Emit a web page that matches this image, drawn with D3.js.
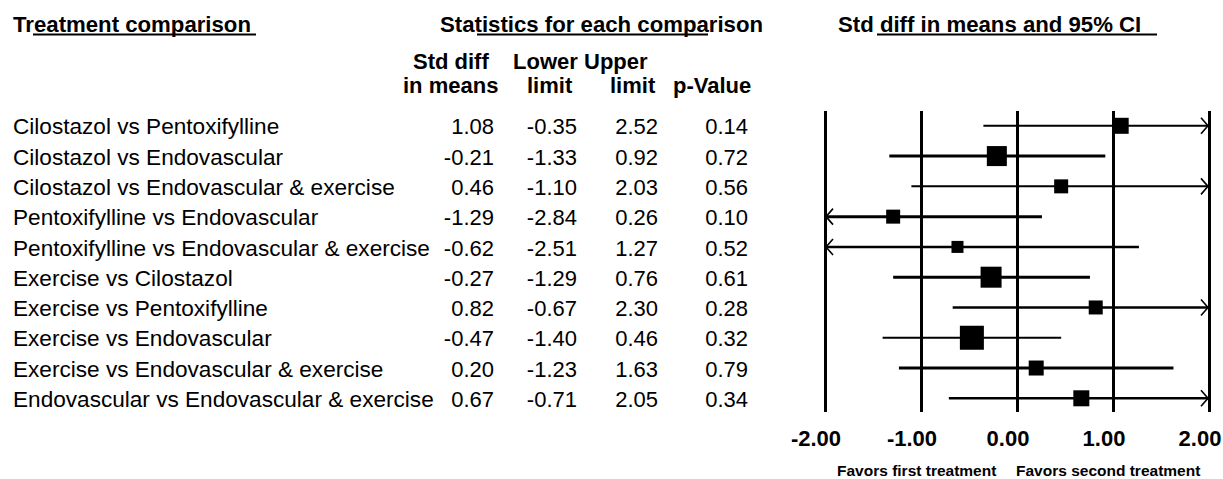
<!DOCTYPE html>
<html><head><meta charset="utf-8">
<script src="https://cdn.jsdelivr.net/npm/d3@7"></script>
<style>
body{margin:0;background:#fff}
text{font-family:"Liberation Sans",Arial,Helvetica,sans-serif;fill:#000}
</style>
</head><body>
<svg id="chart" width="1223" height="479"></svg>
<script>
// ---------- data ----------
const comparisons = [
  "Cilostazol vs Pentoxifylline",
  "Cilostazol vs Endovascular",
  "Cilostazol vs Endovascular & exercise",
  "Pentoxifylline vs Endovascular",
  "Pentoxifylline vs Endovascular & exercise",
  "Exercise vs Cilostazol",
  "Exercise vs Pentoxifylline",
  "Exercise vs Endovascular",
  "Exercise vs Endovascular & exercise",
  "Endovascular vs Endovascular & exercise"
];
const stdDiff    = [1.08, -0.21, 0.46, -1.29, -0.62, -0.27, 0.82, -0.47, 0.20, 0.67];
const lowerLimit = [-0.35, -1.33, -1.10, -2.84, -2.51, -1.29, -0.67, -1.40, -1.23, -0.71];
const upperLimit = [2.52, 0.92, 2.03, 0.26, 1.27, 0.76, 2.30, 0.46, 1.63, 2.05];
const pValue     = [0.14, 0.72, 0.56, 0.10, 0.52, 0.61, 0.28, 0.32, 0.79, 0.34];
const relWeight  = [8.9, 13.9, 6.8, 6.8, 5.0, 15.3, 6.8, 20.0, 7.8, 8.9];
const axisTicks  = [-2, -1, 0, 1, 2];
const favorsLabels = ["Favors first treatment", "Favors second treatment"];
const columnHeaders = [["Std diff", "in means"], ["Lower", "limit"], ["Upper", "limit"], ["", "p-Value"]];
const sectionTitles = ["Treatment comparison", "Statistics for each comparison", "Std diff in means and 95% CI"];

// ---------- layout / style ----------
const ciStroke = [2, 3, 2, 3, 2.5, 3, 2.5, 2, 3, 2.5];
const svg = d3.select("#chart");
const fmt = v => v.toFixed(2);

const x = d3.scaleLinear().domain([-2, 2]).range([825, 1209]);
const y = d3.scalePoint().domain(comparisons).range([125.8, 398.3]);
const side = d3.scaleSqrt().domain([0, 20]).range([0, 24]);

const rows = comparisons.map((c, i) => ({
  name: c, est: stdDiff[i], lo: lowerLimit[i], hi: upperLimit[i], p: pValue[i], w: relWeight[i], sw: ciStroke[i]
}));

// section titles with underline
const titles = [
  {t: sectionTitles[0], x: 13, ux: [33, 256]},
  {t: sectionTitles[1], x: 440, ux: [477, 708]},
  {t: sectionTitles[2], x: 838, ux: [877, 1157]}
];
titles.forEach(d => {
  svg.append("text").attr("x", d.x).attr("y", 32).attr("font-size", 22.2).attr("font-weight", "bold").text(d.t);
  svg.append("line").attr("x1", d.ux[0]).attr("x2", d.ux[1]).attr("y1", 34.5).attr("y2", 34.5)
    .attr("stroke", "#000").attr("stroke-width", 2);
});

// column headers
const headerX = [[413, 403], [513, 527], [584, 610], [0, 673]];
columnHeaders.forEach((h, i) => {
  h.forEach((t, j) => {
    if (!t) return;
    svg.append("text").attr("x", headerX[i][j]).attr("y", j === 0 ? 69 : 93)
      .attr("font-size", 22).attr("font-weight", "bold").text(t);
  });
});

// row labels and statistics
const colRight = [494, 577, 658, 748];
const g = svg.append("g");
g.selectAll("text.lab").data(rows).join("text").attr("class", "lab")
  .attr("x", 13).attr("y", d => y(d.name) + 8.6).attr("font-size", 22.6).text(d => d.name);
[["est"], ["lo"], ["hi"], ["p"]].forEach(([k], ci) => {
  g.selectAll("text.c" + ci).data(rows).join("text").attr("class", "c" + ci)
    .attr("x", colRight[ci]).attr("y", d => y(d.name) + 8.6).attr("text-anchor", "end")
    .attr("font-size", 22).text(d => fmt(d[k]));
});

// axis with vertical reference lines
const axisG = svg.append("g").attr("transform", "translate(0,412)")
  .call(d3.axisBottom(x).tickValues(axisTicks).tickFormat(fmt).tickSize(-301).tickPadding(0));
axisG.select(".domain").remove();
axisG.selectAll(".tick line").attr("stroke", "#000").attr("stroke-width", 3);
axisG.selectAll(".tick text").attr("y", 34).attr("dy", 0).attr("dx", -9.5)
  .attr("font-size", 22).attr("font-weight", "bold").attr("font-family", "Liberation Sans, Arial, sans-serif")
  .attr("fill", "#000");

// CI lines (clipped) with arrows
const [dmin, dmax] = x.domain();
const plot = svg.append("g");
plot.selectAll("line.ci").data(rows).join("line").attr("class", "ci")
  .attr("x1", d => x(Math.max(d.lo, dmin)) + (d.lo < dmin ? 1 : 0))
  .attr("x2", d => x(Math.min(d.hi, dmax)) - (d.hi > dmax ? 1 : 0))
  .attr("y1", d => y(d.name)).attr("y2", d => y(d.name))
  .attr("stroke", "#000").attr("stroke-width", d => d.sw);

rows.forEach(d => {
  const cy = y(d.name);
  if (d.hi > dmax) {
    const tx = x(dmax) - 1;
    plot.append("path").attr("d", `M${tx - 7},${cy - 8}L${tx},${cy}L${tx - 7},${cy + 8}`)
      .attr("fill", "none").attr("stroke", "#000").attr("stroke-width", 1.6);
  }
  if (d.lo < dmin) {
    const tx = x(dmin) + 1;
    plot.append("path").attr("d", `M${tx + 7},${cy - 8}L${tx},${cy}L${tx + 7},${cy + 8}`)
      .attr("fill", "none").attr("stroke", "#000").attr("stroke-width", 1.6);
  }
});

// squares
plot.selectAll("rect.pt").data(rows).join("rect").attr("class", "pt")
  .attr("x", d => x(d.est) - side(d.w) / 2).attr("y", d => y(d.name) - side(d.w) / 2)
  .attr("width", d => side(d.w)).attr("height", d => side(d.w)).attr("fill", "#000");

// favors labels
svg.append("text").attr("x", 837).attr("y", 476).attr("font-size", 15.5).attr("font-weight", "bold").text(favorsLabels[0]);
svg.append("text").attr("x", 1016).attr("y", 476).attr("font-size", 15.5).attr("font-weight", "bold").text(favorsLabels[1]);
</script>
</body></html>
